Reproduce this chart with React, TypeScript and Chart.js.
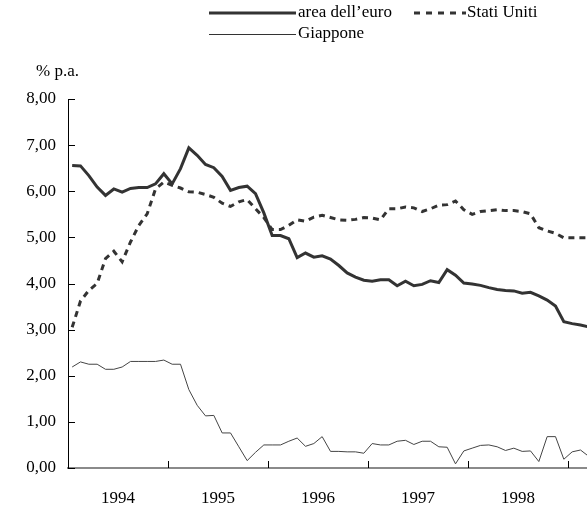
import React, { useEffect, useRef } from 'react';
import { Chart, registerables } from 'chart.js';

Chart.register(...registerables);

// Monthly observations, January 1994 – March 1999
const years = ['1994', '1995', '1996', '1997', '1998', '1999'];
const monthNames = ['01', '02', '03', '04', '05', '06', '07', '08', '09', '10', '11', '12'];
const months: string[] = [];
years.forEach((y) => monthNames.forEach((m) => months.push(`${y}-${m}`)));
const categories = months.slice(0, 63);

const yearLabels = ['1994', '1995', '1996', '1997', '1998'];
const yTickLabels = ['0,00', '1,00', '2,00', '3,00', '4,00', '5,00', '6,00', '7,00', '8,00'];

const euroArea = [
  6.56, 6.55, 6.34, 6.09, 5.91, 6.05, 5.98, 6.06, 6.08, 6.08, 6.16, 6.38,
  6.16, 6.49, 6.94, 6.78, 6.58, 6.51, 6.32, 6.02, 6.08, 6.11, 5.95, 5.53,
  5.04, 5.04, 4.97, 4.56, 4.66, 4.57, 4.6, 4.53, 4.39, 4.23, 4.14, 4.07,
  4.05, 4.08, 4.08, 3.95, 4.05, 3.95, 3.98, 4.06, 4.02, 4.3, 4.18, 4.01,
  3.99, 3.96, 3.91, 3.87, 3.85, 3.84, 3.79, 3.81, 3.73, 3.64, 3.51, 3.17,
  3.13, 3.1, 3.06,
];
const unitedStates = [
  3.05, 3.62, 3.85, 4.0, 4.54, 4.7, 4.47, 4.9, 5.26, 5.51, 6.05, 6.2,
  6.13, 6.07, 5.99, 5.98, 5.93, 5.87, 5.74, 5.67, 5.77, 5.82, 5.62, 5.43,
  5.17, 5.17, 5.26, 5.38, 5.35, 5.44, 5.48, 5.43, 5.38, 5.37, 5.39, 5.43,
  5.42, 5.38, 5.62, 5.62, 5.66, 5.64, 5.56, 5.62, 5.7, 5.71, 5.79, 5.6,
  5.5, 5.56, 5.58, 5.6, 5.58, 5.58, 5.56, 5.51, 5.21, 5.14, 5.09, 4.99,
  4.99, 4.99, 4.99,
];
const japan = [
  2.19, 2.3, 2.25, 2.25, 2.14, 2.14, 2.19, 2.31, 2.31, 2.31, 2.31, 2.34,
  2.25, 2.25, 1.7, 1.36, 1.13, 1.14, 0.76, 0.76, 0.46, 0.16, 0.34, 0.5,
  0.5, 0.5, 0.58, 0.65, 0.47, 0.53, 0.68, 0.36, 0.36, 0.35, 0.35, 0.32,
  0.53, 0.5, 0.5, 0.58, 0.6, 0.51, 0.58, 0.58, 0.46, 0.45, 0.09, 0.37,
  0.43, 0.49, 0.5, 0.46, 0.38, 0.43, 0.36, 0.37, 0.14, 0.68, 0.68, 0.19,
  0.35, 0.39, 0.25,
];

const seriesNames = ['area dell\u2019euro', 'Stati Uniti', 'Giappone'];
const unitLabel = '% p.a.';

const FONT = "'Liberation Serif', 'Times New Roman', serif";
const INK = '#333333';

const toPoints = (vals: number[]) => vals.map((v, i) => ({ x: i, y: v, m: categories[i] }));

const innerTicks = {
  id: 'innerTicks',
  afterDraw(chart: any) {
    const { ctx, chartArea, scales } = chart;
    const x = scales.x;
    const y = scales.y;
    ctx.save();
    ctx.strokeStyle = '#000';
    ctx.lineWidth = 1;
    yTickLabels.forEach((_, v) => {
      const py = Math.round(y.getPixelForValue(v)) + 0.5;
      ctx.beginPath();
      ctx.moveTo(chartArea.left, py);
      ctx.lineTo(chartArea.left + 7, py);
      ctx.stroke();
    });
    yearLabels.forEach((_, k) => {
      const px = Math.round(x.getPixelForValue((k + 1) * 12 - 0.5)) + 0.5;
      ctx.beginPath();
      ctx.moveTo(px, chartArea.bottom);
      ctx.lineTo(px, chartArea.bottom - 7);
      ctx.stroke();
    });
    ctx.restore();
  },
};

const legendAndUnit = {
  id: 'legendAndUnit',
  afterDraw(chart: any) {
    const { ctx } = chart;
    ctx.save();
    ctx.font = `17px ${FONT}`;
    ctx.fillStyle = '#000';
    ctx.textBaseline = 'middle';
    ctx.textAlign = 'left';
    ctx.strokeStyle = INK;
    // row 1: euro area
    ctx.lineWidth = 3;
    ctx.beginPath();
    ctx.moveTo(209, 13);
    ctx.lineTo(296, 13);
    ctx.stroke();
    ctx.fillText(seriesNames[0], 298, 13);
    // row 1: US
    ctx.setLineDash([6, 6]);
    ctx.beginPath();
    ctx.moveTo(414, 13);
    ctx.lineTo(466, 13);
    ctx.stroke();
    ctx.setLineDash([]);
    ctx.fillText(seriesNames[1], 467, 13);
    // row 2: Japan
    ctx.lineWidth = 1;
    ctx.beginPath();
    ctx.moveTo(209, 34.5);
    ctx.lineTo(296, 34.5);
    ctx.stroke();
    ctx.fillText(seriesNames[2], 298, 34);
    // unit
    ctx.fillText(unitLabel, 36, 72);
    ctx.restore();
  },
};

export default function App() {
  const ref = useRef<HTMLCanvasElement>(null);
  useEffect(() => {
    if (!ref.current) return;
    const chart = new Chart(ref.current, {
      type: 'line',
      data: {
        datasets: [
          {
            label: seriesNames[0],
            data: toPoints(euroArea),
            borderColor: INK,
            borderWidth: 3,
            pointRadius: 0,
            tension: 0,
          },
          {
            label: seriesNames[1],
            data: toPoints(unitedStates),
            borderColor: INK,
            borderWidth: 3,
            borderDash: [6, 5],
            pointRadius: 0,
            tension: 0,
          },
          {
            label: seriesNames[2],
            data: toPoints(japan),
            borderColor: '#444444',
            borderWidth: 1,
            pointRadius: 0,
            tension: 0,
          },
        ],
      },
      options: {
        animation: false,
        responsive: false,
        maintainAspectRatio: false,
        layout: { padding: { top: 99, right: 0, left: 0, bottom: 0 } },
        plugins: {
          legend: { display: false },
          tooltip: { enabled: false },
        },
        scales: {
          x: {
            type: 'linear',
            min: -0.5,
            max: -0.5 + (519 / 100) * 12,
            grid: { display: false, drawTicks: false },
            border: { display: true, color: '#8a8a8a', width: 2 },
            afterBuildTicks: (scale: any) => {
              scale.ticks = yearLabels.map((_, k) => ({ value: k * 12 + 5.5 }));
            },
            afterFit: (scale: any) => {
              scale.height = 40;
            },
            ticks: {
              autoSkip: false,
              maxRotation: 0,
              padding: 20,
              color: '#000',
              font: { family: FONT, size: 17 },
              callback: (v: any) => {
                const k = Math.round((Number(v) - 5.5) / 12);
                return yearLabels[k] ?? '';
              },
            },
          },
          y: {
            type: 'linear',
            min: 0,
            max: 8,
            grid: { display: false, drawTicks: false },
            border: { display: true, color: '#000', width: 1 },
            afterFit: (scale: any) => {
              scale.width = 68;
            },
            ticks: {
              stepSize: 1,
              padding: 12,
              color: '#000',
              font: { family: FONT, size: 17 },
              callback: (v: any) => yTickLabels[Math.round(Number(v))] ?? '',
            },
          },
        },
      },
      plugins: [innerTicks, legendAndUnit],
    });
    return () => chart.destroy();
  }, []);
  return (
    <div style={{ position: 'absolute', left: 0, top: 0, width: 587, height: 508, overflow: 'hidden' }}>
      <canvas ref={ref} width={587} height={508} style={{ display: 'block' }} />
    </div>
  );
}
